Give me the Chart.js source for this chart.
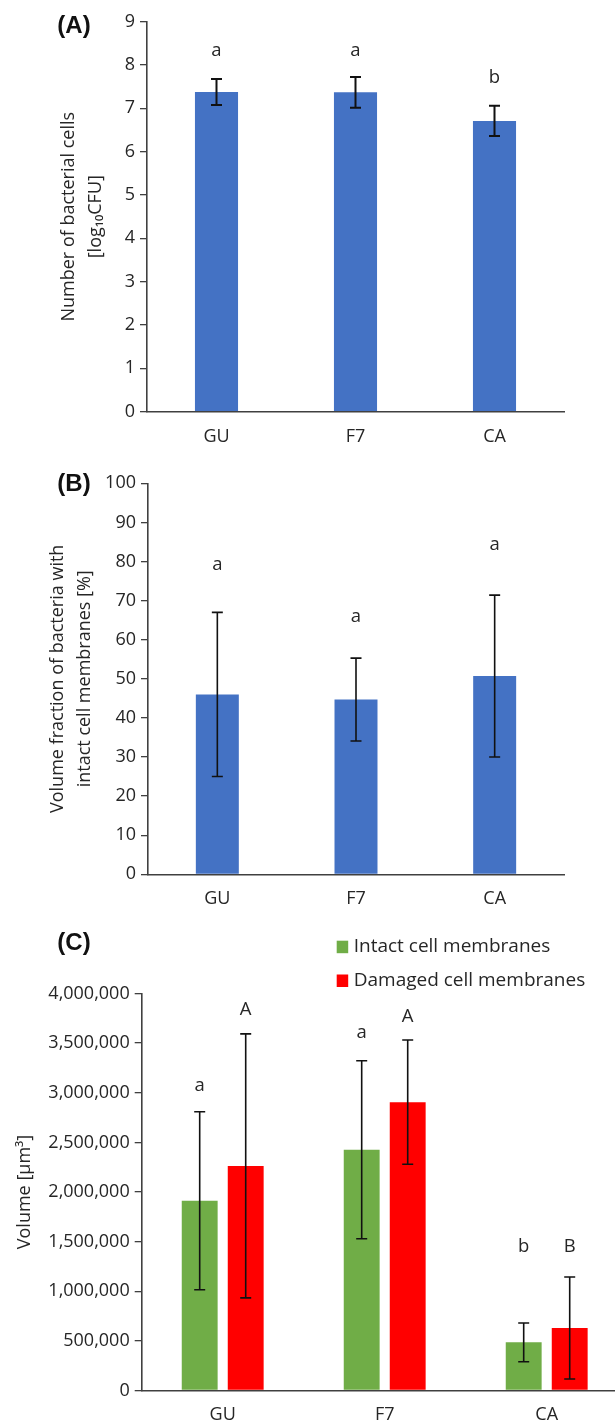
<!DOCTYPE html>
<html>
<head>
<meta charset="utf-8">
<script src="https://cdn.jsdelivr.net/npm/chart.js@4.4.1/dist/chart.umd.min.js"></script>
<style>
  html, body { margin: 0; padding: 0; background: #fff; overflow: hidden; }
  body { width: 615px; height: 1420px; position: relative; }
  .panel { position: absolute; left: 0; }
  .tag { position: absolute; font: bold 24px "Liberation Sans", Arial, sans-serif; color: #111;
         transform: translate(-50%, -50%); line-height: 1; }
</style>
</head>
<body>
<div class="panel" style="top:0;width:615px;height:455px"><canvas id="chart-a" width="615" height="455"></canvas></div>
<div class="panel" style="top:455px;width:615px;height:450px"><canvas id="chart-b" width="615" height="450"></canvas></div>
<div class="panel" style="top:905px;width:630px;height:515px"><canvas id="chart-c" width="630" height="515"></canvas></div>
<div class="tag" style="left:74px;top:25px">(A)</div>
<div class="tag" style="left:74px;top:483px">(B)</div>
<div class="tag" style="left:74px;top:942px">(C)</div>
<script>
const categories = ["GU", "F7", "CA"];

// (A) number of bacterial cells, log10 CFU
const cellsLog = [7.38, 7.37, 6.71];
const cellsLogErr = [0.30, 0.355, 0.35];
const cellsLetters = ["a", "a", "b"];
const cellsLetterY = [8.21, 8.21, 7.58];

// (B) volume fraction with intact membranes, %
const intactPct = [46.0, 44.7, 50.7];
const intactPctErr = [21.0, 10.6, 20.7];
const intactPctLetters = ["a", "a", "a"];
const intactPctLetterY = [77.8, 64.4, 82.9];

// (C) volume, µm3
const volIntact = [1912000, 2426000, 485000];
const volIntactErr = [897000, 897000, 195000];
const volIntactLetters = ["a", "a", "b"];
const volIntactLetterY = [3019000, 3547000, 1398000];
const volDamaged = [2263000, 2905000, 630000];
const volDamagedErr = [1330000, 626000, 514000];
const volDamagedLetters = ["A", "A", "B"];
const volDamagedLetterY = [3781000, 3714000, 1398000];

const FONT = "'Open Sans', sans-serif";
const TEXT = "#262626";
const AXIS = "#404040";

Chart.defaults.font.family = FONT;
Chart.defaults.color = TEXT;

/*-----error bars + significance letters----------------------*/
const barExtras = {
  id: "barExtras",
  afterDatasetsDraw(chart, args, opts) {
    const ctx = chart.ctx;
    const y = chart.scales.y;
    chart.data.datasets.forEach((ds, i) => {
      const meta = chart.getDatasetMeta(i);
      meta.data.forEach((bar, j) => {
        const v = ds.data[j];
        const top = y.getPixelForValue(v + ds.errors[j]);
        const bot = y.getPixelForValue(v - ds.errors[j]);
        const half = opts.cap / 2;
        ctx.save();
        ctx.strokeStyle = "#111";
        ctx.lineWidth = opts.lineWidth;
        ctx.beginPath();
        ctx.moveTo(bar.x, top);
        ctx.lineTo(bar.x, bot);
        ctx.moveTo(bar.x - half, top);
        ctx.lineTo(bar.x + half, top);
        ctx.moveTo(bar.x - half, bot);
        ctx.lineTo(bar.x + half, bot);
        ctx.stroke();
        ctx.font = "18.5px " + FONT;
        ctx.fillStyle = TEXT;
        ctx.textAlign = "center";
        ctx.textBaseline = "alphabetic";
        ctx.fillText(ds.letters[j], bar.x, y.getPixelForValue(ds.letterY[j]));
        ctx.restore();
      });
    });
  },
};

/*-----stacked legend for panel C-----------------------------*/
const sideLegend = {
  id: "sideLegend",
  afterDraw(chart, args, opts) {
    if (!opts.show) return;
    const ctx = chart.ctx;
    ctx.save();
    ctx.font = "19px " + FONT;
    ctx.textBaseline = "middle";
    ctx.textAlign = "left";
    chart.data.datasets.forEach((ds, i) => {
      const cy = opts.y + i * opts.rowGap;
      ctx.fillStyle = ds.backgroundColor;
      ctx.fillRect(opts.x, cy - 6, 11.5, 12.5);
      ctx.fillStyle = TEXT;
      ctx.fillText(ds.label, opts.x + 17, cy);
    });
    ctx.restore();
  },
};

function makeConfig(p) {
  return {
    type: "bar",
    data: { labels: categories, datasets: p.datasets },
    plugins: [barExtras, sideLegend],
    options: {
      responsive: false,
      animation: false,
      devicePixelRatio: 1,
      layout: { padding: { top: p.top, right: p.right, bottom: 0, left: 0 } },
      datasets: { bar: { barPercentage: p.barPct, categoryPercentage: p.catPct } },
      plugins: {
        legend: { display: false },
        tooltip: { enabled: false },
        barExtras: { lineWidth: p.errWidth, cap: 11 },
        sideLegend: p.legend || { show: false },
      },
      scales: {
        x: {
          grid: { display: false, drawTicks: false },
          border: { display: true, color: AXIS, width: 1.6 },
          ticks: { font: { size: 18 }, color: TEXT, padding: 14 },
          afterFit: (s) => { s.height = p.xHeight; },
        },
        y: {
          min: p.min,
          max: p.max,
          ticks: {
            stepSize: p.step,
            font: { size: 18 },
            color: TEXT,
            padding: 5,
            callback: (v) => v.toLocaleString("en-US"),
          },
          grid: { drawOnChartArea: false, drawTicks: true, tickLength: 7, color: AXIS, lineWidth: 1.3 },
          border: { display: true, color: AXIS, width: 1.6 },
          title: {
            display: true,
            text: p.title,
            color: TEXT,
            font: { size: 18, lineHeight: 1.5 },
            padding: { top: p.titlePad, bottom: 0 },
          },
          afterFit: (s) => { s.width = p.yWidth; },
        },
      },
    },
  };
}

new Chart(document.getElementById("chart-a"), makeConfig({
  datasets: [{
    label: "log10 CFU", data: cellsLog, errors: cellsLogErr,
    letters: cellsLetters, letterY: cellsLetterY, backgroundColor: "#4472C4",
  }],
  top: 21.7, right: 51, xHeight: 43.3, yWidth: 147,
  min: 0, max: 9, step: 1, barPct: 0.31, catPct: 1, errWidth: 2,
  title: ["Number of bacterial cells", "[log\u2081\u2080CFU]"], titlePad: 55.5,
}));

new Chart(document.getElementById("chart-b"), makeConfig({
  datasets: [{
    label: "Intact %", data: intactPct, errors: intactPctErr,
    letters: intactPctLetters, letterY: intactPctLetterY, backgroundColor: "#4472C4",
  }],
  top: 28.3, right: 51, xHeight: 30.7, yWidth: 148,
  min: 0, max: 100, step: 10, barPct: 0.31, catPct: 1, errWidth: 1.6,
  title: ["Volume fraction of bacteria with", "intact cell membranes [%]"], titlePad: 44.7,
}));

new Chart(document.getElementById("chart-c"), makeConfig({
  datasets: [
    { label: "Intact cell membranes", data: volIntact, errors: volIntactErr,
      letters: volIntactLetters, letterY: volIntactLetterY, backgroundColor: "#70AD47" },
    { label: "Damaged cell membranes", data: volDamaged, errors: volDamagedErr,
      letters: volDamagedLetters, letterY: volDamagedLetterY, backgroundColor: "#FF0000" },
  ],
  top: 88.5, right: 2.3, xHeight: 29.5, yWidth: 141.7,
  min: 0, max: 4000000, step: 500000, barPct: 0.78, catPct: 0.568, errWidth: 1.6,
  title: "Volume [\u03bcm\u00b3]", titlePad: 11.5,
  legend: { show: true, x: 336.7, y: 41.7, rowGap: 33.8 },
}));
</script>
</body>
</html>
